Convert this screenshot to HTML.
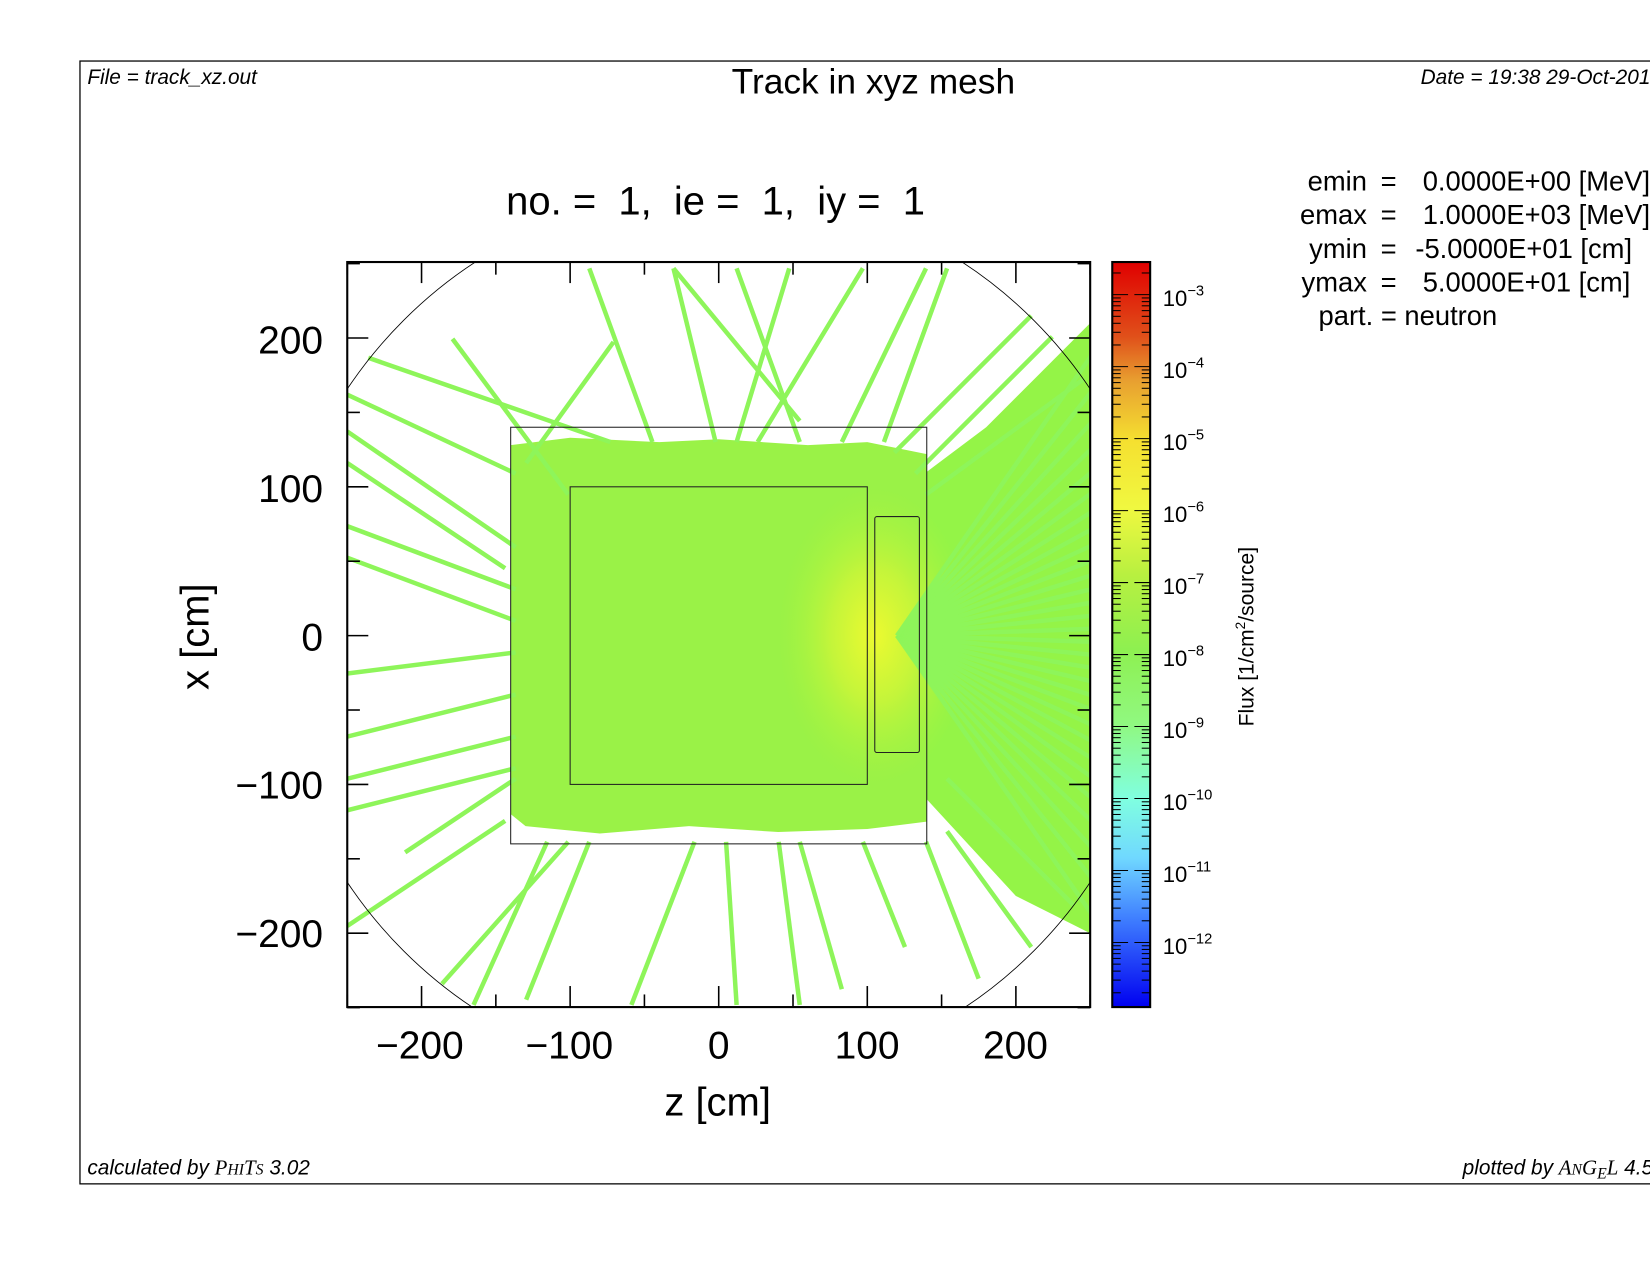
<!DOCTYPE html>
<html><head><meta charset="utf-8"><style>
html,body{margin:0;padding:0;background:#fff;}
svg{display:block;font-family:"Liberation Sans",sans-serif;}
</style></head><body>
<svg id="s" width="1650" height="1275" viewBox="0 0 1568 1211.6" preserveAspectRatio="none" xmlns="http://www.w3.org/2000/svg">
<defs>
<linearGradient id="cb" x1="0" y1="0" x2="0" y2="1">
<stop offset="0" stop-color="#e00000"/>
<stop offset="0.1" stop-color="#e0501a"/>
<stop offset="0.16" stop-color="#e8a030"/>
<stop offset="0.24" stop-color="#f5e030"/>
<stop offset="0.33" stop-color="#f0f840"/>
<stop offset="0.42" stop-color="#b8f040"/>
<stop offset="0.52" stop-color="#8ef050"/>
<stop offset="0.62" stop-color="#90f880"/>
<stop offset="0.72" stop-color="#80ffe0"/>
<stop offset="0.80" stop-color="#70d8ff"/>
<stop offset="0.88" stop-color="#4080ff"/>
<stop offset="1" stop-color="#0000f0"/>
</linearGradient>
<radialGradient id="hot" cx="0.5" cy="0.5" r="0.5">
<stop offset="0" stop-color="#ecfa30"/>
<stop offset="0.45" stop-color="#c4f53a"/>
<stop offset="1" stop-color="#a6f43e" stop-opacity="0"/>
</radialGradient>
<clipPath id="pc"><rect x="330" y="249" width="706" height="708"/></clipPath>
</defs>
<rect x="76" y="58" width="1600" height="1067" fill="none" stroke="#000" stroke-width="1.2"/>
<text x="83" y="80" font-size="19.8" font-style="italic">File = track_xz.out</text>
<text x="1350" y="80" font-size="19.8" font-style="italic">Date = 19:38 29-Oct-2019</text>
<text x="830" y="89" font-size="33.6" text-anchor="middle">Track in xyz mesh</text>
<text x="680" y="204" font-size="38" text-anchor="middle" xml:space="preserve">no. =  1,  ie =  1,  iy =  1</text>
<text x="83" y="1116" font-size="19.8" font-style="italic">calculated by <tspan font-family="Liberation Serif">P<tspan font-size="15">HI</tspan>T<tspan font-size="15">S</tspan></tspan> 3.02</text>
<text x="1390" y="1116" font-size="19.8" font-style="italic">plotted by <tspan font-family="Liberation Serif">A<tspan font-size="15">N</tspan>G<tspan font-size="15" dy="4">E</tspan><tspan dy="-4">L</tspan></tspan> 4.5</text>
<g font-size="26">
<text x="1299" y="181" text-anchor="end">emin</text><text x="1312" y="181">=</text><text x="1352" y="181">0.0000E+00 [MeV]</text>
<text x="1299" y="213" text-anchor="end">emax</text><text x="1312" y="213">=</text><text x="1352" y="213">1.0000E+03 [MeV]</text>
<text x="1299" y="245" text-anchor="end">ymin</text><text x="1312" y="245">=</text><text x="1345" y="245">-5.0000E+01 [cm]</text>
<text x="1299" y="277" text-anchor="end">ymax</text><text x="1312" y="277">=</text><text x="1352" y="277">5.0000E+01 [cm]</text>
<text x="1253" y="309">part. = neutron</text>
</g>
<g clip-path="url(#pc)">
<g id="data" transform="translate(683,604) scale(1.412,-1.414)">
<path d="M-140,128 L-100,133 L-40,130 L0,132 L60,128 L100,130 L140,122 L140,-125 L100,-130 L40,-132 L-20,-128 L-80,-133 L-130,-128 L-140,-120 Z" fill="#9af247"/>
<path d="M140,110 L180,140 L250,210 L250,-200 L200,-175 L140,-110 Z" fill="#94f447"/>
<rect x="40" y="-100" width="130" height="200" fill="url(#hot)"/>
<g id="tracks" fill="none" stroke="#8ef55a" stroke-width="4.5" vector-effect="non-scaling-stroke"></g>
</g>
<circle cx="683" cy="604" r="423.6" fill="none" stroke="#000" stroke-width="0.8"/>
</g>
<g fill="none" stroke="#222" stroke-width="1">
<rect x="485.3" y="406" width="395.4" height="395.9"/>
<rect x="541.8" y="462.6" width="282.4" height="282.8"/>
<rect x="831.3" y="490.9" width="42.4" height="224.2" rx="2"/>
</g>
<rect x="330" y="249" width="706" height="708" fill="none" stroke="#000" stroke-width="2"/>
<g id="ticks" stroke="#000" stroke-width="1.5"></g>
<g font-size="37">
<text x="399" y="1006" text-anchor="middle">−200</text>
<text x="541" y="1006" text-anchor="middle">−100</text>
<text x="683" y="1006" text-anchor="middle">0</text>
<text x="824" y="1006" text-anchor="middle">100</text>
<text x="965" y="1006" text-anchor="middle">200</text>
<text x="307" y="336" text-anchor="end">200</text>
<text x="307" y="477" text-anchor="end">100</text>
<text x="307" y="618" text-anchor="end">0</text>
<text x="307" y="759" text-anchor="end">−100</text>
<text x="307" y="900" text-anchor="end">−200</text>
</g>
<g font-size="38">
<text x="682" y="1060" text-anchor="middle">z [cm]</text>
<text transform="translate(198,605) rotate(-90)" text-anchor="middle">x [cm]</text>
</g>
<rect x="1057" y="249" width="36" height="708" fill="url(#cb)" stroke="#000" stroke-width="2"/>
<g id="cbt" stroke="#000" stroke-width="1"></g>
<g id="cbl" font-size="21"></g>
<text transform="translate(1191,605) rotate(-90)" font-size="20" text-anchor="middle">Flux [1/cm<tspan dy="-8" font-size="13">2</tspan><tspan dy="8">/source]</tspan></text>
</svg>
<script>
var NS="http://www.w3.org/2000/svg";
function el(p,t,a,txt){var e=document.createElementNS(NS,t);for(var k in a)e.setAttribute(k,a[k]);if(txt)e.textContent=txt;document.getElementById(p).appendChild(e);return e;}
var L=[[350,340,580,420],[430,322,540,470],[583,325,500,440],[330,375,490,450],[330,410,490,520],[330,440,480,540],[330,500,490,560],[330,530,490,590],[330,640,490,620],[330,700,490,660],[330,740,490,700],[330,770,490,730],[385,810,490,740],[420,935,540,800],[500,950,560,800],[450,955,520,800],[640,255,680,420],[700,255,760,420],[820,255,720,420],[880,255,800,420],[900,255,840,420],[980,300,850,430],[1030,360,880,470],[1000,320,870,450],[600,955,660,800],[760,955,740,800],[860,900,820,800],[930,930,880,800],[980,900,900,790],[1020,860,900,740],[640,255,760,400],[560,255,620,420],[750,255,700,420],[330,880,480,780],[700,955,690,800],[800,940,760,800]];
L.forEach(function(l){el("tracks","line",{x1:(l[0]-683)/1.412,y1:(604-l[1])/1.414,x2:(l[2]-683)/1.412,y2:(604-l[3])/1.414,"vector-effect":"non-scaling-stroke"});});
for(var i=0;i<30;i++){var a=(-55+i*3.8)*Math.PI/180;el("tracks","line",{x1:120,y1:0,x2:120+260*Math.cos(a),y2:260*Math.sin(a),"vector-effect":"non-scaling-stroke"});}
for(var v=-250;v<=250;v+=50){var maj=(v%100==0);var len=maj?20:12;var X=683+v*1.412,Y=604-v*1.414;
el("ticks","line",{x1:X,y1:957,x2:X,y2:957-len});el("ticks","line",{x1:X,y1:249,x2:X,y2:249+len});
el("ticks","line",{x1:330,y1:Y,x2:330+len,y2:Y});el("ticks","line",{x1:1036,y1:Y,x2:1036-len,y2:Y});}
var d0=280,dd=68.4;
for(var e=3;e<=13;e++){var yb=d0+(e-3)*dd;
 for(var m=1;m<=9;m++){var y=yb-Math.log10(m)*dd;if(y<250||y>956)continue;var w=(m==1)?15:8;
  el("cbt","line",{x1:1057,y1:y,x2:1057+w,y2:y});el("cbt","line",{x1:1093,y1:y,x2:1093-w,y2:y});}
 if(e<=12){var t=el("cbl","text",{x:1105,y:yb+11},"10");var s=document.createElementNS(NS,"tspan");s.setAttribute("dy","-10");s.setAttribute("font-size","14");s.textContent="−"+e;t.appendChild(s);}
}
</script>
</body></html>
